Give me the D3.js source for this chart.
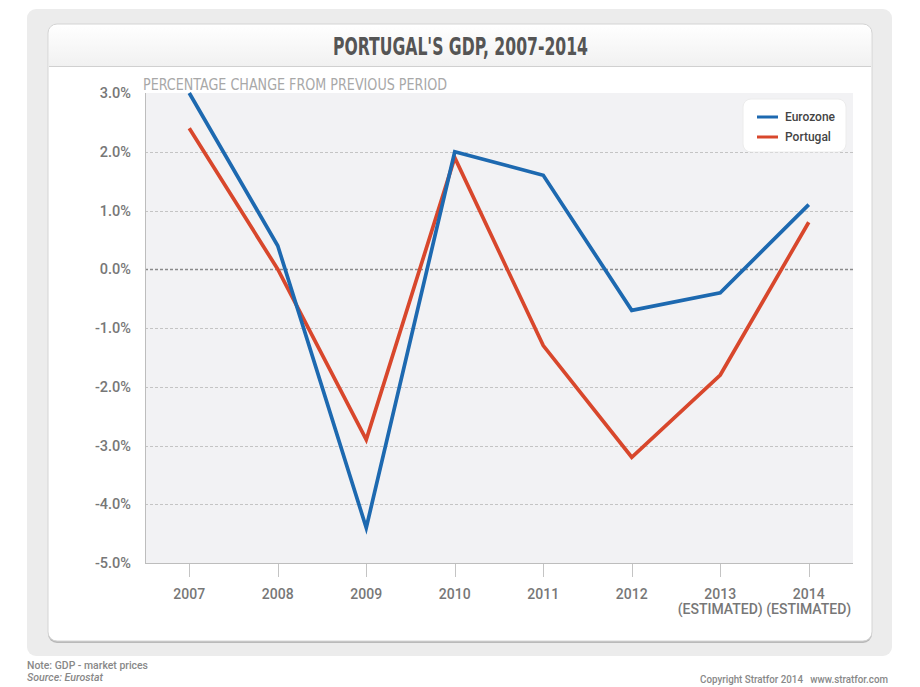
<!DOCTYPE html>
<html><head><meta charset="utf-8">
<script src="https://cdn.jsdelivr.net/npm/d3@7"></script>
<style>
html,body{margin:0;padding:0;background:#fff;}
svg{display:block;}
</style></head>
<body>
<svg id="chart" width="920" height="687"></svg>
<script>
const years = ["2007","2008","2009","2010","2011","2012","2013","2014"];
const yearNotes = ["","","","","","","(ESTIMATED)","(ESTIMATED)"];
const eurozone = [3.0, 0.4, -4.4, 2.0, 1.6, -0.7, -0.4, 1.1];
const portugal = [2.4, 0.0, -2.9, 1.9, -1.3, -3.2, -1.8, 0.8];
const yTicks = [3, 2, 1, 0, -1, -2, -3, -4, -5];
const seriesNames = ["Eurozone", "Portugal"];
const seriesColors = ["#1d69b0", "#d8472c"];

(function(){
const narrow = "'Liberation Sans Narrow','DejaVu Sans Condensed',sans-serif";
const lab = "Roboto,'Noto Sans',sans-serif";
const svg = d3.select("#chart");

svg.append("rect").attr("x",27).attr("y",9).attr("width",865).attr("height",647)
  .attr("rx",9).attr("fill","#ececec");
svg.append("rect").attr("x",48).attr("y",25).attr("width",824).attr("height",618)
  .attr("rx",9).attr("fill","#b9b9b9");
const defs = svg.append("defs");
const g1 = defs.append("linearGradient").attr("id","hdr").attr("x1",0).attr("y1",0).attr("x2",0).attr("y2",1);
g1.append("stop").attr("offset","0%").attr("stop-color","#ffffff");
g1.append("stop").attr("offset","100%").attr("stop-color","#f1f1f1");
svg.append("rect").attr("x",48).attr("y",24).attr("width",824).attr("height",617)
  .attr("rx",9).attr("fill","#fff").attr("stroke","#d4d4d4");
svg.append("path").attr("d","M49,66 V33 a8,8 0 0 1 8,-8 H863 a8,8 0 0 1 8,8 V66 Z").attr("fill","url(#hdr)");
svg.append("line").attr("x1",49).attr("x2",871).attr("y1",66.5).attr("y2",66.5).attr("stroke","#d0d0d0");

svg.append("text").attr("x",333).attr("y",55)
  .attr("font-family",narrow).attr("font-weight","bold").attr("font-size",24)
  .attr("fill","#555").attr("textLength",255).attr("lengthAdjust","spacingAndGlyphs")
  .text("PORTUGAL'S GDP, 2007-2014");

const pl = 145, pr = 853, pt = 93, pb = 563;
const x = d3.scalePoint().domain(years).range([pl, pr]).padding(0.5);
const y = d3.scaleLinear().domain([-5, 3]).range([pb, pt]);

svg.append("rect").attr("x",pl).attr("y",pt).attr("width",pr-pl).attr("height",pb-pt).attr("fill","#f2f2f4");

svg.append("g").selectAll("line").data(yTicks.filter(t => t !== 3 && t !== -5)).join("line")
  .attr("x1",pl).attr("x2",pr)
  .attr("y1",d=>Math.round(y(d))+0.5).attr("y2",d=>Math.round(y(d))+0.5)
  .attr("stroke",d=>d===0?"#8a8a8a":"#c4c4c4")
  .attr("stroke-width",d=>d===0?1.3:1)
  .attr("stroke-dasharray","3,2");

svg.append("line").attr("x1",pl+0.5).attr("x2",pl+0.5).attr("y1",pt).attr("y2",pb).attr("stroke","#bdbdbd");
svg.append("line").attr("x1",pl).attr("x2",pr).attr("y1",pb+0.5).attr("y2",pb+0.5).attr("stroke","#bdbdbd");

const fmt = d => d3.format(".1f")(d).replace("\u2212","-") + "%";
svg.append("g").selectAll("text").data(yTicks).join("text")
  .attr("x",131).attr("y",d=>y(d)+5).attr("text-anchor","end")
  .attr("font-family",lab).attr("font-weight","500").attr("font-size",14.5).attr("fill","#777")
  .text(fmt);

const xg = svg.append("g");
xg.selectAll("line").data(years).join("line")
  .attr("x1",d=>Math.round(x(d))+0.5).attr("x2",d=>Math.round(x(d))+0.5)
  .attr("y1",pb+1).attr("y2",pb+14).attr("stroke","#c4c4c4");
xg.selectAll("text.yr").data(years).join("text").attr("class","yr")
  .attr("x",d=>x(d)).attr("y",599).attr("text-anchor","middle")
  .attr("font-family",lab).attr("font-weight","500").attr("font-size",14).attr("fill","#777")
  .text(d=>d);
xg.selectAll("text.nt").data(years).join("text").attr("class","nt")
  .attr("x",d=>x(d)).attr("y",614).attr("text-anchor","middle")
  .attr("font-family",lab).attr("font-weight","500").attr("font-size",14).attr("fill","#777")
  .text((d,i)=>yearNotes[i]);

svg.append("text").attr("x",143).attr("y",90)
  .attr("font-family",narrow).attr("font-size",16).attr("fill","#a8a8a8")
  .attr("textLength",304).attr("lengthAdjust","spacingAndGlyphs")
  .text("PERCENTAGE CHANGE FROM PREVIOUS PERIOD");

const line = d3.line().x((d,i)=>x(years[i])).y(d=>y(d));
[portugal, eurozone].forEach((s,k)=>{
  svg.append("path").datum(s).attr("d",line).attr("fill","none")
    .attr("stroke",seriesColors[1-k]).attr("stroke-width",3.7).attr("stroke-linejoin","miter");
});

const lg = svg.append("g");
lg.append("rect").attr("x",743).attr("y",99).attr("width",103).attr("height",53).attr("rx",8)
  .attr("fill","#fff").attr("stroke","#ececec");
seriesNames.forEach((n,k)=>{
  lg.append("line").attr("x1",757).attr("x2",778).attr("y1",117+k*20).attr("y2",117+k*20)
    .attr("stroke",seriesColors[k]).attr("stroke-width",3);
  lg.append("text").attr("x",785).attr("y",121+k*20)
    .attr("font-family",lab).attr("font-weight","500").attr("font-size",12).attr("fill","#444")
    .text(n);
});

svg.append("text").attr("x",27).attr("y",669).attr("font-family",lab).attr("font-weight","500")
  .attr("font-size",10).attr("fill","#888").attr("textLength",121).attr("lengthAdjust","spacingAndGlyphs")
  .text("Note: GDP - market prices");
svg.append("text").attr("x",27).attr("y",681).attr("font-family",lab).attr("font-weight","500").attr("font-style","italic")
  .attr("font-size",10).attr("fill","#888").attr("textLength",76).attr("lengthAdjust","spacingAndGlyphs")
  .text("Source: Eurostat");
svg.append("text").attr("x",700).attr("y",683).attr("font-family",lab).attr("font-weight","500")
  .attr("font-size",10).attr("fill","#888").attr("xml:space","preserve")
  .attr("textLength",188).attr("lengthAdjust","spacingAndGlyphs")
  .text("Copyright Stratfor 2014   www.stratfor.com");
})();
</script>
</body></html>
